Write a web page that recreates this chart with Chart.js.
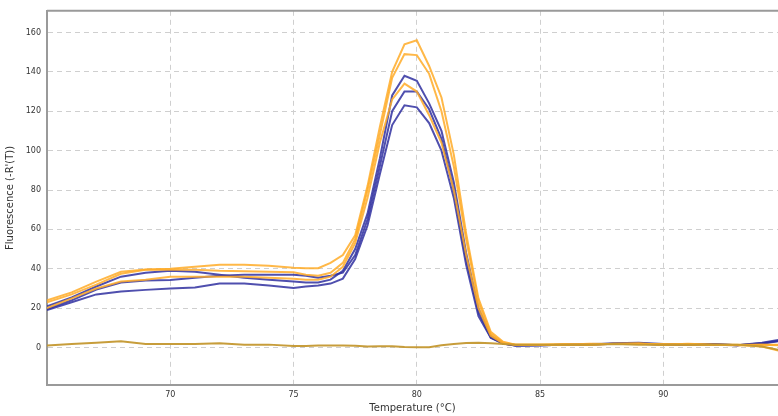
<!DOCTYPE html>
<html>
<head>
<meta charset="utf-8">
<script src="https://cdn.jsdelivr.net/npm/chart.js@4.4.0/dist/chart.umd.min.js"></script>
<style>
    html, body { margin: 0; padding: 0; background: #fff; }
    #wrap { width: 778px; height: 416px; }
</style>
</head>
<body>
<div id="wrap"><canvas id="meltChart" width="778" height="416"></canvas></div>
<script>
// melt curve data
var temps = [65, 66, 67, 68, 69, 70, 71, 72, 73, 74, 75, 75.5, 76, 76.5, 77, 77.5, 78, 78.5, 79, 79.5,
    80, 80.5, 81, 81.5, 82, 82.5, 83, 83.5, 84, 85, 86, 87, 88, 89, 90, 91, 92, 93, 94, 95];

var orange1 = [24, 28, 33.5, 38.5, 39.7, 40, 41, 42, 42, 41.5, 40.5, 40.3, 40.3, 43, 47, 57, 82, 112, 140, 154,
    156, 143, 127, 98, 58, 25, 8, 3, 1.5, 1.5, 1.8, 1.5, 2, 2, 1.5, 2, 1.5, 1.2, 1.5, 1.5];
var orange2 = [23, 27, 32, 37.5, 39.5, 39.7, 39.5, 39, 38.8, 38.5, 38.2, 37, 36.5, 38, 43, 55, 80, 108, 137, 149,
    148.5, 139, 120, 92, 55, 23, 7, 2.5, 1.5, 1.5, 1.5, 2, 1.8, 2.2, 1.5, 1.8, 1.5, 1.3, 0.5, -2.5];
var orange3 = [20, 25, 30, 33.5, 34.5, 36, 36, 36, 36, 35.5, 35, 34.5, 34.5, 36, 41, 53, 76, 104, 126, 134,
    130, 118, 104, 80, 47, 20, 6, 2, 1.5, 1.5, 1.5, 1.5, 2, 1.8, 1.8, 1.5, 1.5, 1.5, 1.5, 1];
var blue1 = [21, 25.5, 31, 36, 38, 39, 38.5, 37, 35.5, 34.5, 33.5, 33, 33, 34.5, 39, 50, 68, 96, 128, 138,
    135.5, 124, 110, 84, 48, 20, 6, 2, 1, 1.2, 1.5, 1.5, 2.2, 2.5, 1.8, 1.5, 1.8, 1.2, 2.5, 4.5];
var blue2 = [19.5, 24, 29.5, 33, 34, 34.3, 35.5, 36.5, 37, 37, 37, 36.5, 35.5, 36.5, 38, 47, 65, 92, 120, 130,
    130, 121, 106, 80, 45, 18, 5, 2, 1, 1.2, 1.5, 1.8, 2, 2.2, 1.5, 1.8, 1.5, 1.2, 2, 3.8];
var blue3 = [19, 23, 27, 28.5, 29.3, 30, 30.5, 32.5, 32.5, 31.5, 30.3, 31, 31.5, 32.5, 35, 45, 62, 88, 113, 123,
    122, 114, 100, 76, 42, 16, 5, 2, 1, 1.2, 1.5, 1.5, 2, 2, 1.5, 1.5, 1.8, 1.2, 2.2, 4];
var ntc = [1, 1.8, 2.4, 3.2, 1.8, 1.8, 1.8, 2.2, 1.5, 1.5, 0.8, 0.8, 1, 1, 1, 0.9, 0.5, 0.7, 0.7, 0.3,
    0.2, 0.2, 1.2, 1.8, 2.3, 2.5, 2.2, 1.8, 1.5, 1.5, 1.5, 1.5, 1.8, 1.5, 1.5, 1.5, 1.5, 1.5, 0.5, -2];

var xTicks = [70, 75, 80, 85, 90];
var yTicks = [0, 20, 40, 60, 80, 100, 120, 140, 160];

var ORANGE = 'rgba(255,172,40,0.85)';
var BLUE = 'rgba(48,48,160,0.85)';
var GOLD = 'rgba(196,152,48,0.95)';

function series(values, color) {
    return {
        data: values.map((v, i) => { return { x: temps[i], y: v } }),
        borderColor: color,
        backgroundColor: color,
        borderWidth: 2,
        pointRadius: 0,
        tension: 0,
        fill: false
    };
}

var frameTop = {
    id: 'frameTop',
    afterDraw(chart) {
        let a = chart.chartArea;
        let ctx = chart.ctx;
        ctx.save();
        ctx.strokeStyle = '#9a9a9a';
        ctx.lineWidth = 2;
        ctx.beginPath();
        ctx.moveTo(a.left, a.top);
        ctx.lineTo(a.right, a.top);
        ctx.stroke();
        ctx.restore();
    }
};

var meltChart = new Chart(document.getElementById('meltChart'), {
    type: 'line',
    data: {
        datasets: [
            series(ntc, GOLD),
            series(orange1, ORANGE),
            series(orange2, ORANGE),
            series(orange3, ORANGE),
            series(blue1, BLUE),
            series(blue2, BLUE),
            series(blue3, BLUE)
        ]
    },
    plugins: [frameTop],
    options: {
        responsive: false,
        animation: false,
        layout: {
            padding: { top: 9, right: 0, left: 0, bottom: 0 }
        },
        plugins: {
            legend: { display: false },
            tooltip: { enabled: false }
        },
        scales: {
            x: {
                type: 'linear',
                min: 65,
                max: 94.65,
                afterBuildTicks: s => { s.ticks = xTicks.map(v => { return { value: v } }) },
                afterFit: s => { s.height = 31 },
                grid: { color: '#cfcfcf', drawTicks: false, lineWidth: 1 },
                border: { color: '#9a9a9a', width: 2, dash: [5, 4] },
                ticks: {
                    padding: 5,
                    color: '#333',
                    font: { family: 'DejaVu Sans', size: 8 },
                    maxRotation: 0
                },
                title: {
                    display: true,
                    text: 'Temperature (°C)',
                    color: '#333',
                    font: { family: 'DejaVu Sans', size: 10 },
                    padding: { top: 0, bottom: 2 }
                }
            },
            y: {
                min: -19,
                max: 171,
                afterBuildTicks: s => { s.ticks = yTicks.map(v => { return { value: v } }) },
                afterFit: s => { s.width = 47 },
                grid: { color: '#cfcfcf', drawTicks: false, lineWidth: 1 },
                border: { color: '#9a9a9a', width: 2, dash: [5, 4] },
                ticks: {
                    padding: 6,
                    color: '#333',
                    font: { family: 'DejaVu Sans', size: 8 }
                },
                title: {
                    display: true,
                    text: "Fluorescence (-R'(T))",
                    color: '#333',
                    font: { family: 'DejaVu Sans', size: 10 },
                    padding: { top: 4, bottom: 0 }
                }
            }
        }
    }
});
</script>
</body>
</html>
